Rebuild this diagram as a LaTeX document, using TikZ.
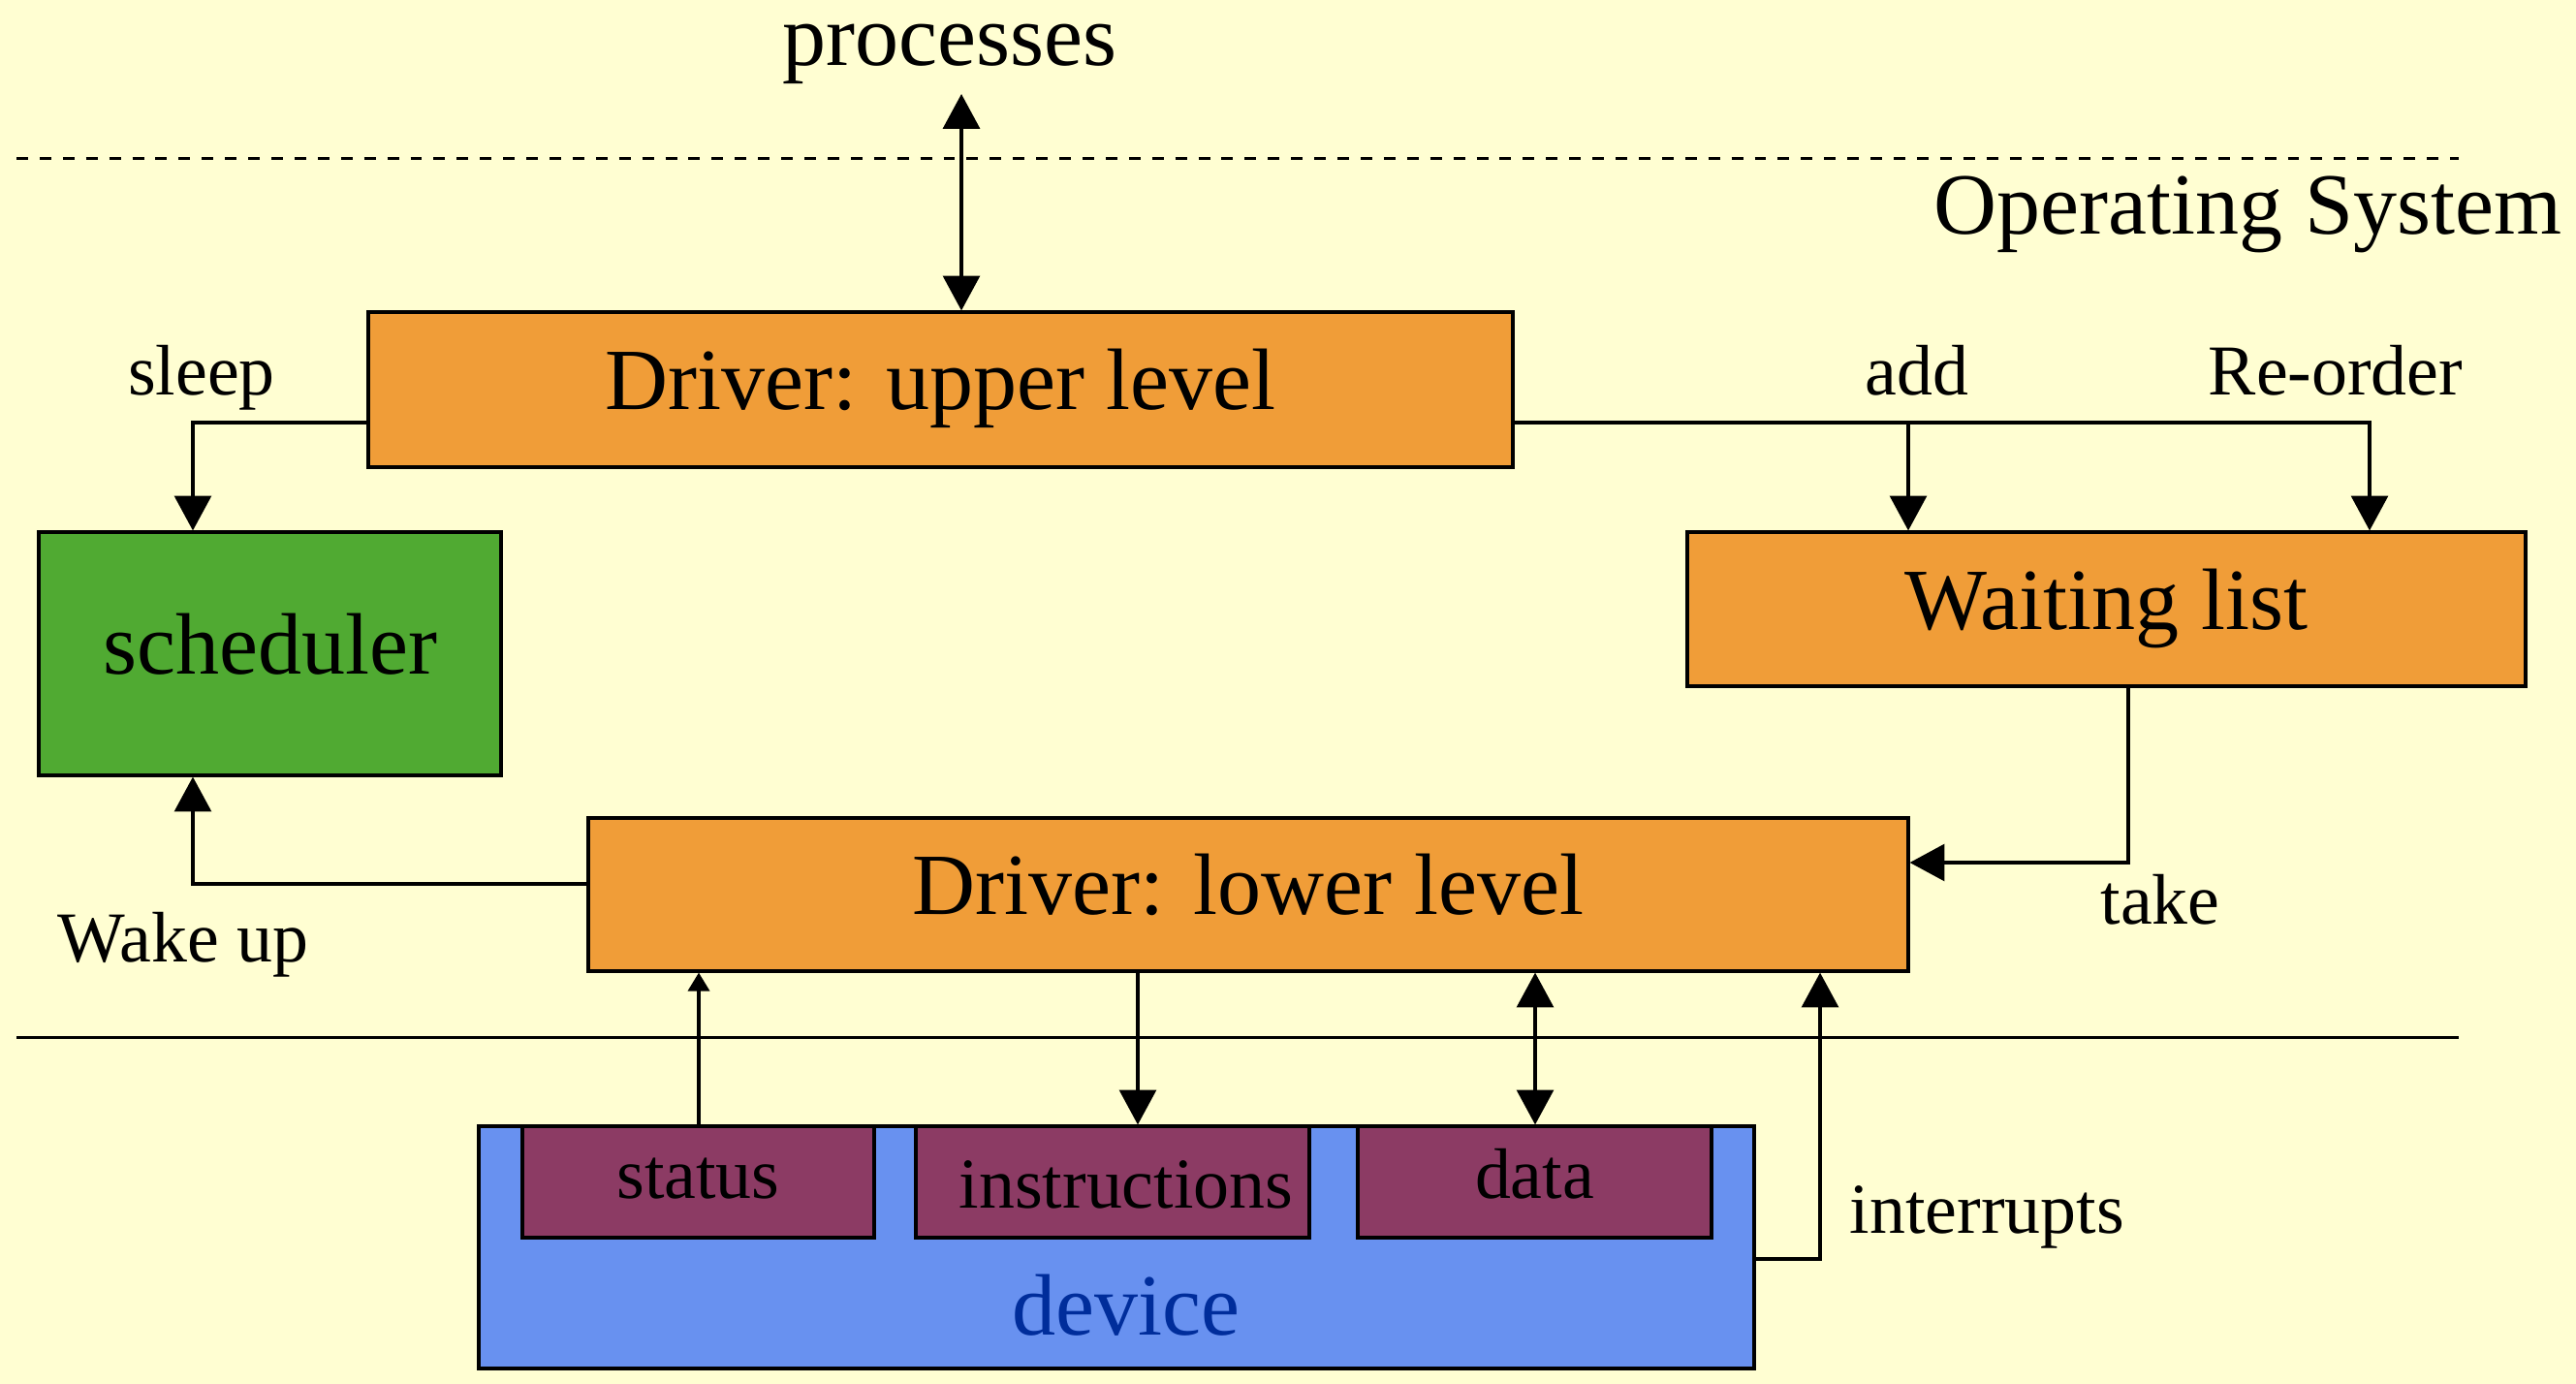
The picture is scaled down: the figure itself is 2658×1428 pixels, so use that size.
\documentclass[tikz,border=0pt]{standalone}
\usepackage{fontspec}
\setmainfont{Liberation Serif}
\usetikzlibrary{arrows.meta}
\definecolor{bgyellow}{RGB}{255,254,210}
\definecolor{orangebox}{RGB}{240,157,56}
\definecolor{greenbox}{RGB}{80,170,50}
\definecolor{purplebox}{RGB}{140,59,100}
\definecolor{bluebox}{RGB}{104,145,240}
\definecolor{devtext}{RGB}{0,45,155}
\tikzset{
  box/.style={draw=black, line width=0.9pt, inner sep=0pt, font=\fontsize{25.6}{30}\selectfont,
    text height=17.4pt, text depth=5.6pt},
  regbox/.style={draw=black, line width=0.9pt, fill=purplebox, inner sep=0pt,
    font=\fontsize{21}{25}\selectfont, text height=14.3pt, text depth=4.6pt},
  bigtxt/.style={font=\fontsize{25.6}{30}\selectfont, inner sep=0pt, anchor=base},
  smalltxt/.style={font=\fontsize{21}{25}\selectfont, inner sep=0pt, anchor=base},
  conn/.style={line width=0.9pt},
  arr/.style={conn, -{Triangle[length=10.2pt, width=10.8pt]}},
  arrboth/.style={conn, {Triangle[length=10.2pt, width=10.8pt]}-{Triangle[length=10.2pt, width=10.8pt]}},
  arrsmall/.style={conn, -{Triangle[length=5.4pt, width=6.3pt]}},
  sepline/.style={line width=0.85pt}
}
\begin{document}
\begin{tikzpicture}[x=0.01cm, y=-0.01cm]
\fill[bgyellow] (0,0) rectangle (2658,1428);
\useasboundingbox (0,0) rectangle (2658,1428);

% separator lines
\draw[sepline, dash pattern=on 3.4pt off 3.4pt] (17,164) -- (2537,164);
\draw[sepline] (17,1070) -- (2537,1070);

% boxes
\node[box, fill=orangebox, minimum width=1181*0.01cm, minimum height=160*0.01cm] (up) at (970.5,402) {Driver: upper level};
\node[box, fill=greenbox, minimum width=477*0.01cm, minimum height=251*0.01cm] (sched) at (278.5,674.5) {scheduler};
\node[box, fill=orangebox, minimum width=865*0.01cm, minimum height=159*0.01cm] (wait) at (2173.5,628.5) {Waiting list};
\node[box, fill=orangebox, minimum width=1362*0.01cm, minimum height=158*0.01cm] (low) at (1288,923) {Driver: lower level};
\node[box, fill=bluebox, minimum width=1316*0.01cm, minimum height=250*0.01cm] (dev) at (1152,1287) {};
\node[regbox, minimum width=363*0.01cm, minimum height=115*0.01cm] (stat) at (720.5,1219.5) {status};
\node[regbox, minimum width=406*0.01cm, minimum height=115*0.01cm] (instr) at (1148,1219.5) {};
\node[smalltxt] (instrlabel) at (1162,1246) {instructions};
\node[regbox, minimum width=365*0.01cm, minimum height=115*0.01cm] (data) at (1583.5,1219.5) {data};
\node[bigtxt, text=devtext] (devlabel) at (1162,1377) {device};

% text labels
\node[bigtxt] (proc) at (980,68) {processes};
\node[bigtxt, anchor=base east] (os) at (2644,242) {Operating System};
\node[smalltxt] (sleep) at (208,408) {sleep};
\node[smalltxt] (add) at (1978,408) {add};
\node[smalltxt] (reorder) at (2410,408) {Re-order};
\node[smalltxt] (wake) at (189,992) {Wake up};
\node[smalltxt] (take) at (2229,953) {take};
\node[smalltxt, anchor=base west] (intr) at (1908,1272) {interrupts};

% connectors
\coordinate (ptop) at (992,97);
\coordinate (addj) at (1969,436);
\draw[arrboth] (ptop) -- (ptop |- up.north);
\draw[arr] (up.west |- 0,436) -| (sched.north -| 199,0);
\draw[arr] (up.east |- 0,436) -| (wait.north -| 2445,0);
\draw[arr] (addj) -- (wait.north -| addj);
\draw[arr] (wait.south -| 2196,0) |- (low.east |- 0,890);
\draw[arr] (low.west |- 0,912) -| (sched.south -| 199,0);
\draw[arrsmall] (stat.north -| 721,0) -- (low.south -| 721,0);
\draw[arr] (low.south -| 1174,0) -- (instr.north -| 1174,0);
\draw[arrboth] (data.north -| 1584,0) -- (low.south -| 1584,0);
\draw[arr] (dev.east |- 0,1299) -| (low.south -| 1878,0);
\end{tikzpicture}
\end{document}
